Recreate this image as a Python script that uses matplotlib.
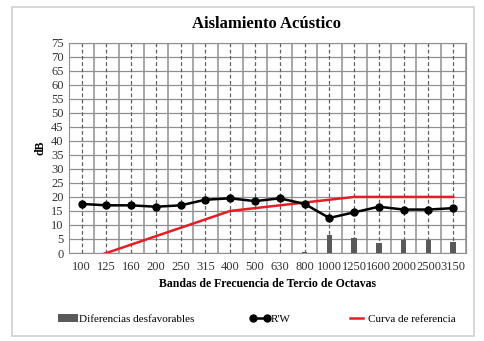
import matplotlib
matplotlib.use("Agg")
import matplotlib.pyplot as plt
from matplotlib.patches import Rectangle
import numpy as np

plt.rcParams['font.family'] = ['Liberation Serif', 'DejaVu Serif']

bandas = ['100', '125', '160', '200', '250', '315', '400', '500', '630',
          '800', '1000', '1250', '1600', '2000', '2500', '3150']
rw = [17.5, 17, 17, 16.5, 17, 19, 19.5, 18.5, 19.5, 17.5, 12.5, 14.5, 16.5, 15.5, 15.5, 16]
curva_ref = [-3, 0, 3, 6, 9, 12, 15, 16, 17, 18, 19, 20, 20, 20, 20, 20]
diferencias = [0, 0, 0, 0, 0, 0, 0, 0, 0, 0.5, 6.5, 5.5, 3.5, 4.5, 4.5, 4]

fig = plt.figure(figsize=(4.84, 3.41), dpi=100)
# marco exterior del grafico
fig.patches.append(Rectangle((0.025, 0.015), 0.955, 0.965, transform=fig.transFigure,
                             fill=False, edgecolor='#d0d0d0', linewidth=1.2))
ax = fig.add_axes([0.143, 0.258, 0.819, 0.617])

x = np.arange(len(bandas))

# lineas verticales discontinuas en el centro de cada banda
for xi in x:
    ax.axvline(xi, color='#606060', linestyle=(0, (3, 2)), linewidth=0.9, zorder=1)

ax.bar(x, diferencias, width=0.22, color='#595959', zorder=3, label='Diferencias desfavorables')
ax.plot(x, rw, color='black', marker='o', markersize=5, linewidth=1.8, zorder=5, label='R\'W')
ax.plot(x, curva_ref, color='#e31e24', linewidth=1.8, zorder=4, label='Curva de referencia')

ax.set_xlim(-0.5, len(bandas) - 0.5)
ax.set_ylim(0, 75)
ax.set_yticks(np.arange(0, 80, 5))
ax.set_xticks(x)
ax.set_xticklabels(bandas)
ax.set_xticks(np.arange(-0.5, len(bandas), 1), minor=True)
ax.grid(axis='y', which='major', color='#909090', linewidth=0.9)
ax.grid(axis='x', which='minor', color='#909090', linewidth=1.1)
ax.grid(axis='x', which='major', visible=False)
ax.tick_params(axis='both', which='both', length=0, labelsize=9, colors='#333333')
ax.tick_params(axis='x', pad=6)
ax.tick_params(axis='y', pad=4)
for s in ax.spines.values():
    s.set_color('#909090')
ax.set_axisbelow(True)

ax.set_ylabel('dB', fontsize=8.5, fontweight='bold', labelpad=3)
ax.set_xlabel('Bandas de Frecuencia de Tercio de Octavas', fontsize=8.5, fontweight='bold', labelpad=3)
fig.text(0.55, 0.93, 'Aislamiento Acústico', ha='center', va='center', fontsize=12, fontweight='bold')

h, l = ax.get_legend_handles_labels()
order = [2, 0, 1]
fig.legend([h[i] for i in order], [l[i] for i in order], loc='center', bbox_to_anchor=(0.53, 0.065),
           ncol=3, frameon=False, fontsize=8, handlelength=1.8, handletextpad=0.1,
           columnspacing=5.0, numpoints=2)

fig.savefig('out.png', dpi=100)
